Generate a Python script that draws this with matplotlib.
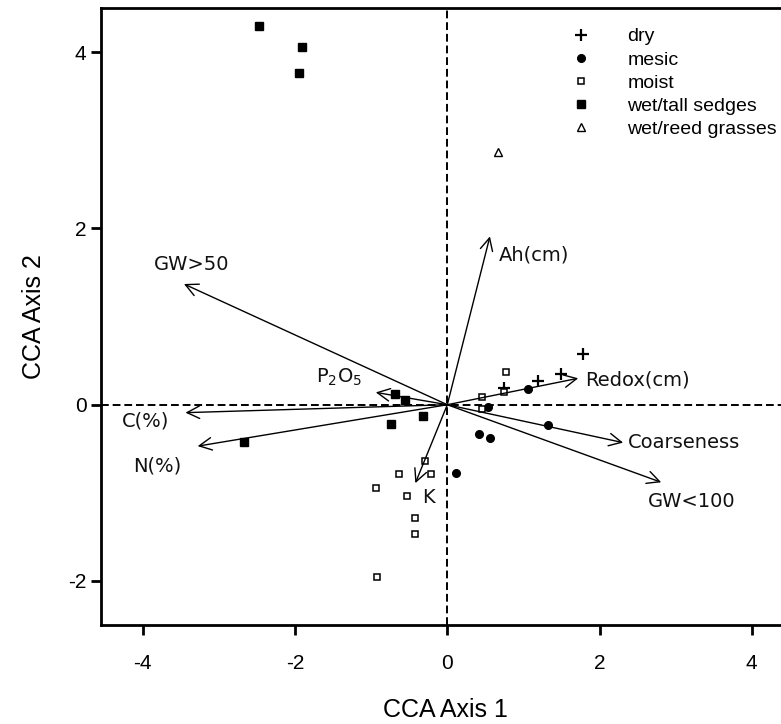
import matplotlib
matplotlib.use('Agg')
import matplotlib.pyplot as plt

plt.rcParams['font.family'] = ['Liberation Sans', 'DejaVu Sans']
plt.rcParams['axes.unicode_minus'] = False

# site scores
dry_x = [1.78, 1.50, 1.19, 0.74]
dry_y = [0.58, 0.35, 0.27, 0.19]

mesic_x = [1.06, 0.53, 0.42, 0.56, 1.32, 0.11]
mesic_y = [0.18, -0.03, -0.33, -0.38, -0.23, -0.78]

moist_x = [0.77, 0.45, 0.45, 0.74, -0.29, -0.64, -0.21, -0.94, -0.53, -0.42, -0.43, -0.93]
moist_y = [0.37, 0.09, -0.05, 0.14, -0.64, -0.79, -0.79, -0.95, -1.04, -1.29, -1.47, -1.95]

sedge_x = [-2.48, -1.91, -1.95, -0.69, -0.56, -0.32, -0.74, -2.67]
sedge_y = [4.30, 4.06, 3.76, 0.12, 0.05, -0.13, -0.22, -0.42]

reed_x = [0.67]
reed_y = [2.87]

# environmental biplot arrows: tip and label anchor
env_names = ['Ah(cm)', 'GW>50', 'P$_2$O$_5$', 'C(%)', 'N(%)', 'K',
             'Redox(cm)', 'Coarseness', 'GW<100']
env_x = [0.56, -3.46, -0.94, -3.44, -3.28, -0.42, 1.72, 2.31, 2.81]
env_y = [1.91, 1.37, 0.14, -0.09, -0.47, -0.89, 0.30, -0.43, -0.88]
lab_x = [0.68, -3.86, -1.73, -4.27, -4.13, -0.33, 1.81, 2.37, 2.64]
lab_y = [1.70, 1.59, 0.31, -0.19, -0.70, -1.05, 0.28, -0.43, -1.10]

fig = plt.figure(figsize=(7.81, 7.24), dpi=100)
ax = fig.add_axes([0.1293, 0.1367, 0.882, 0.852])

ax.axhline(0, color='black', lw=1.4, ls=(0, (4, 2)), zorder=1)
ax.axvline(0, color='black', lw=1.4, ls=(0, (4, 2)), zorder=1)

for name, tx, ty, lx, ly in zip(env_names, env_x, env_y, lab_x, lab_y):
	ax.annotate('', xy=(tx, ty), xytext=(0, 0),
				arrowprops=dict(arrowstyle='->,head_length=0.6,head_width=0.3',
								lw=1.0, color='black', mutation_scale=15,
								shrinkA=0, shrinkB=0))
	ax.text(lx, ly, name, fontsize=14, family='DejaVu Sans',
			ha='left', va='center', color='#111111')

ax.plot(dry_x, dry_y, ls='none', marker='+', ms=9, mew=1.6, color='black', label='dry')
ax.plot(mesic_x, mesic_y, ls='none', marker='o', ms=5.5, color='black', label='mesic')
ax.plot(moist_x, moist_y, ls='none', marker='s', ms=5, mfc='white', mec='black', mew=1.1, label='moist')
ax.plot(sedge_x, sedge_y, ls='none', marker='s', ms=6, color='black', label='wet/tall sedges')
ax.plot(reed_x, reed_y, ls='none', marker='^', ms=5.5, mfc='white', mec='black', mew=1.0, label='wet/reed grasses')

ax.set_xlim(-4.55, 4.5)
ax.set_ylim(-2.5, 4.5)
ax.set_xticks([-4, -2, 0, 2, 4])
ax.set_yticks([-2, 0, 2, 4])
ax.tick_params(direction='out', length=7.5, width=2, labelsize=15)
ax.tick_params(axis='x', pad=13)
ax.tick_params(axis='y', pad=3)
for s in ax.spines.values():
	s.set_linewidth(2)

ax.set_xlabel('CCA Axis 1', fontsize=18, labelpad=18)
ax.set_ylabel('CCA Axis 2', fontsize=18, labelpad=16)

ax.legend(loc='upper left', bbox_to_anchor=(0.711, 0.983), bbox_transform=fig.transFigure,
		  frameon=False, prop={'size': 14},
		  handlelength=1, handletextpad=1.9, labelspacing=0.28, borderpad=0.3)

fig.savefig('out.png', dpi=100)
